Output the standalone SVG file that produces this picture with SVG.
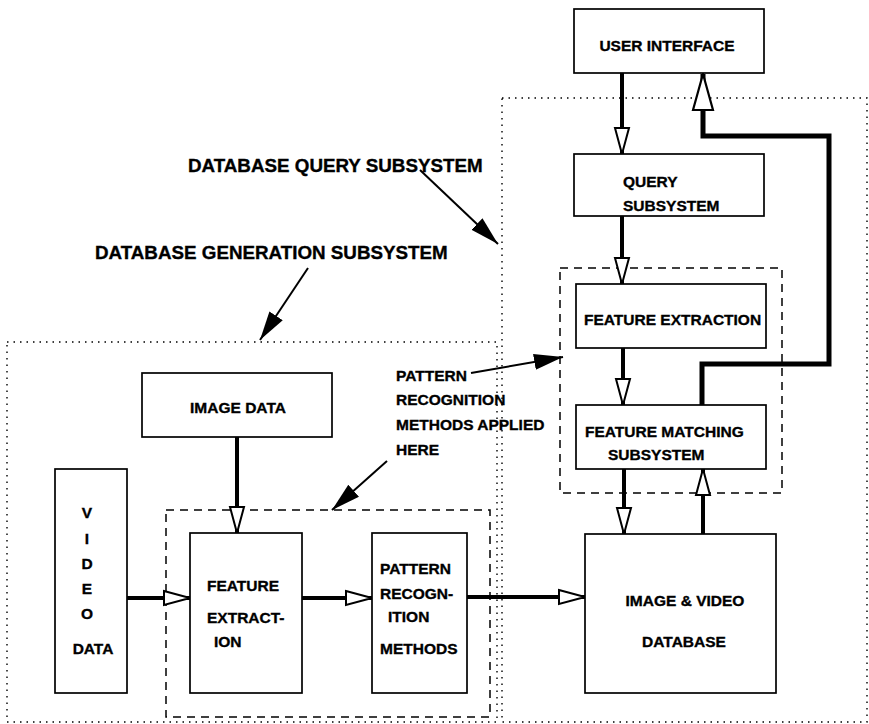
<svg xmlns="http://www.w3.org/2000/svg" width="869" height="724" viewBox="0 0 869 724">
<defs>
<style>
text{font-family:"Liberation Sans",Arial,Helvetica,sans-serif;font-weight:bold;fill:#000;stroke:#000;stroke-width:0.35}
.t{font-size:15.5px}
.title{font-size:18.8px}
.box{fill:#fff;stroke:#000;stroke-width:1.7}
.dash{fill:none;stroke:#000;stroke-width:1.5;stroke-dasharray:8 6}
.dot{fill:none;stroke:#000;stroke-width:1.4;stroke-dasharray:1.5 5}
.conn{fill:none;stroke:#000;stroke-width:4}
.ann{fill:none;stroke:#000;stroke-width:2}
</style>
<marker id="open" markerUnits="userSpaceOnUse" markerWidth="30" markerHeight="18" refX="27" refY="8" orient="auto" viewBox="0 0 30 16">
<path d="M1,1 L27,8 L1,15 Z" fill="#fff" stroke="#000" stroke-width="2"/>
</marker>
<marker id="open-big" markerUnits="userSpaceOnUse" markerWidth="40" markerHeight="24" refX="37" refY="11" orient="auto" viewBox="0 0 40 22">
<path d="M1,1 L37,11 L1,21 Z" fill="#fff" stroke="#000" stroke-width="2.2"/>
</marker>
<marker id="solid" markerUnits="userSpaceOnUse" markerWidth="30" markerHeight="18" refX="29" refY="9" orient="auto" viewBox="0 0 30 18">
<path d="M0,1 L29,9 L0,17 Z" fill="#000"/>
</marker>
</defs>
<rect width="869" height="724" fill="#fff"/>

<g id="regions">
<rect id="query-region" class="dot" x="502" y="98" width="365" height="624"/>
<rect id="generation-region" class="dot" x="7" y="342" width="490" height="380"/>
<rect id="query-pr-box" class="dash" x="560" y="268" width="222" height="225"/>
<rect id="gen-pr-box" class="dash" x="166" y="510" width="324" height="207"/>
</g>

<g id="connectors">
<line class="conn" x1="622" y1="73" x2="622" y2="154" marker-end="url(#open)"/>
<line class="conn" x1="622" y1="216" x2="622" y2="284" marker-end="url(#open)"/>
<line class="conn" x1="623" y1="348" x2="623" y2="405" marker-end="url(#open)"/>
<line class="conn" x1="624" y1="469" x2="624" y2="534" marker-end="url(#open)"/>
<line class="conn" x1="703" y1="534" x2="703" y2="469" marker-end="url(#open)"/>
<path class="conn" style="stroke-width:5" d="M702,405 L702,364 L829,364 L829,136 L703,136 L703,74" marker-end="url(#open-big)"/>
<line class="conn" x1="237" y1="437" x2="237" y2="533" marker-end="url(#open)"/>
<line class="conn" x1="127" y1="598" x2="190" y2="598" marker-end="url(#open)"/>
<line class="conn" x1="302" y1="598" x2="372" y2="598" marker-end="url(#open)"/>
<line class="conn" x1="467" y1="597" x2="585" y2="597" marker-end="url(#open)"/>
<line class="ann" x1="420" y1="170" x2="498" y2="244" marker-end="url(#solid)"/>
<line class="ann" x1="308" y1="268" x2="260" y2="340" marker-end="url(#solid)"/>
<line class="ann" x1="471" y1="373" x2="563" y2="357" marker-end="url(#solid)"/>
<line class="ann" x1="387" y1="461" x2="332" y2="510" marker-end="url(#solid)"/>
</g>

<g id="user-interface">
<rect class="box" x="574" y="9" width="190" height="64"/>
<text class="t" x="667" y="50.5" text-anchor="middle">USER INTERFACE</text>
</g>
<g id="query-subsystem">
<rect class="box" x="574" y="154" width="190" height="62"/>
<text class="t" x="623" y="187">QUERY</text>
<text class="t" x="623" y="211">SUBSYSTEM</text>
</g>
<g id="feature-extraction-q">
<rect class="box" x="576" y="284" width="190" height="64"/>
<text class="t" x="584" y="324.5">FEATURE EXTRACTION</text>
</g>
<g id="feature-matching">
<rect class="box" x="576" y="405" width="190" height="64"/>
<text class="t" x="585" y="437">FEATURE MATCHING</text>
<text class="t" x="608" y="460">SUBSYSTEM</text>
</g>
<g id="database">
<rect class="box" x="585" y="534" width="191" height="159"/>
<text class="t" x="685" y="605.5" text-anchor="middle">IMAGE &amp; VIDEO</text>
<text class="t" x="684" y="646.5" text-anchor="middle">DATABASE</text>
</g>
<g id="image-data">
<rect class="box" x="142" y="373" width="190" height="64"/>
<text class="t" x="238" y="412.5" text-anchor="middle">IMAGE DATA</text>
</g>
<g id="video-data">
<rect class="box" x="55" y="469" width="72" height="224"/>
<text class="t" x="87" y="517.5" text-anchor="middle">V</text>
<text class="t" x="87" y="543.5" text-anchor="middle">I</text>
<text class="t" x="87" y="568.5" text-anchor="middle">D</text>
<text class="t" x="87" y="593.5" text-anchor="middle">E</text>
<text class="t" x="87" y="618.5" text-anchor="middle">O</text>
<text class="t" x="93" y="653.5" text-anchor="middle">DATA</text>
</g>
<g id="feature-extraction-g">
<rect class="box" x="190" y="533" width="112" height="160"/>
<text class="t" x="207" y="590.5">FEATURE</text>
<text class="t" x="207" y="622.5">EXTRACT-</text>
<text class="t" x="214" y="646.5">ION</text>
</g>
<g id="pattern-recognition">
<rect class="box" x="372" y="533" width="95" height="160"/>
<text class="t" x="380" y="573.5">PATTERN</text>
<text class="t" x="380" y="598.5">RECOGN-</text>
<text class="t" x="388" y="621.5">ITION</text>
<text class="t" x="380" y="653.5">METHODS</text>
</g>

<g id="labels">
<text class="title" x="188" y="171.5">DATABASE QUERY SUBSYSTEM</text>
<text class="title" x="95" y="258.5">DATABASE GENERATION SUBSYSTEM</text>
<text class="t" x="396" y="381">PATTERN</text>
<text class="t" x="396" y="405">RECOGNITION</text>
<text class="t" x="396" y="430">METHODS APPLIED</text>
<text class="t" x="396" y="455">HERE</text>
</g>
</svg>
